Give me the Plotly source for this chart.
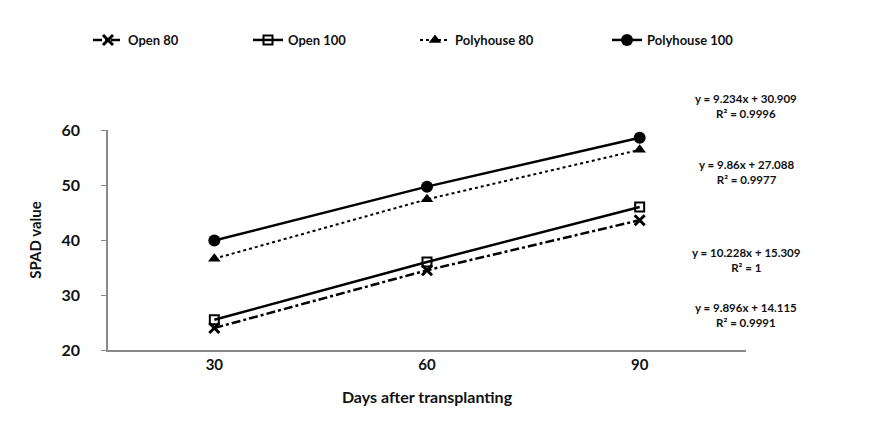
import plotly.graph_objects as go

days = ["30", "60", "90"]
open80 = [24.0, 34.5, 43.6]
open100 = [25.5, 36.0, 46.0]
poly80 = [36.6, 47.4, 56.4]
poly100 = [39.9, 49.7, 58.6]

series_names = ["Open 80", "Open 100", "Polyhouse 80", "Polyhouse 100"]
equations = [
    "y = 9.234x + 30.909<br>R² = 0.9996",
    "y = 9.86x + 27.088<br>R² = 0.9977",
    "y = 10.228x + 15.309<br>R² = 1",
    "y = 9.896x + 14.115<br>R² = 0.9991",
]

FONT = "Lato"
OFF = 8  # page body margin offset
W, H = 886, 421
L, T = 107 - OFF + 1, 130 - OFF
pw, ph = 638, 220
R, B = W - L - pw, H - T - ph

def fx(page_x):
    return (page_x - OFF - L) / pw

def fy(page_y):
    return (H - B - (page_y - OFF)) / ph

eq_y = [106, 172, 260, 315]  # page pixel centres
leg_text_x = [128, 288, 455, 647]

fig = go.Figure()
styles = [
    dict(data=open80, dash="dashdot", symbol="x-thin", msize=10, mline=3, legend="legend", lw=2.5),
    dict(data=open100, dash="solid", symbol="square-open", msize=9, mline=2, legend="legend2", lw=2.5),
    dict(data=poly80, dash="dot", symbol="triangle-up", msize=11, mline=0, legend="legend3", lw=2),
    dict(data=poly100, dash="solid", symbol="circle", msize=12, mline=0, legend="legend4", lw=2.5),
]
for name, s in zip(series_names, styles):
    fig.add_trace(go.Scatter(
        x=days, y=s["data"], name=name, mode="lines+markers",
        line=dict(color="black", width=s["lw"], dash=s["dash"]),
        marker=dict(symbol=s["symbol"], size=s["msize"], color="black",
                    line=dict(color="black", width=s["mline"])),
        legend=s["legend"],
    ))

common_leg = dict(orientation="h", yanchor="middle", xanchor="left",
                  y=fy(40), font=dict(family=FONT, size=13, color="#111", weight="bold"),
                  bgcolor="rgba(0,0,0,0)", itemwidth=30, tracegroupgap=0)
layout_legs = {}
for i, k in enumerate(["legend", "legend2", "legend3", "legend4"]):
    layout_legs[k] = dict(common_leg, x=fx(leg_text_x[i] - 40))

for txt, py in zip(equations, eq_y):
    fig.add_annotation(
        x=fx(746), y=fy(py), xref="paper", yref="paper",
        text=txt, showarrow=False, xanchor="center", yanchor="middle",
        font=dict(family=FONT, size=11.5, color="#111", weight="bold"), align="center",
    )

fig.update_layout(
    width=W, height=H,
    margin=dict(l=L, r=R, t=T, b=B, autoexpand=False),
    plot_bgcolor="white", paper_bgcolor="white",
    showlegend=True,
    **layout_legs,
    xaxis=dict(type="category", range=[-0.5, 2.5], showgrid=False, zeroline=False,
               showline=True, linecolor="#888", linewidth=1.5, ticks="",
               tickfont=dict(family=FONT, size=15, color="#111", weight="bold"),
               title=dict(text="Days after transplanting",
                          font=dict(family=FONT, size=16, color="#111", weight="bold"), standoff=20)),
    yaxis=dict(range=[20, 60], dtick=10, showgrid=False, zeroline=False,
               showline=True, linecolor="#888", linewidth=1.5, ticks="outside",
               ticklen=5, tickcolor="#888", ticklabelstandoff=18,
               tickfont=dict(family=FONT, size=16, color="#111", weight="bold"),
               title=dict(text="SPAD value",
                          font=dict(family=FONT, size=15, color="#111", weight="bold"), standoff=16)),
)

fig.write_html("out.html")
